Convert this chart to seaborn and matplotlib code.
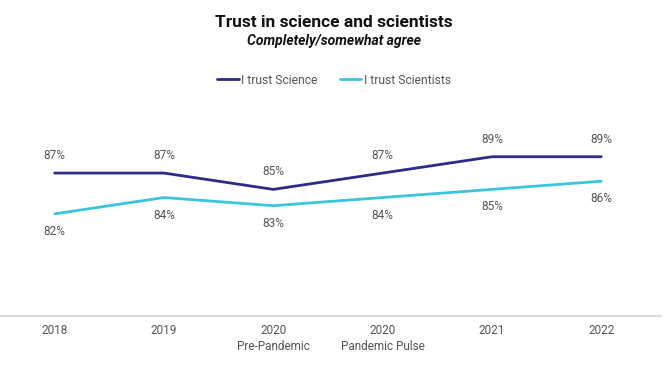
import matplotlib
matplotlib.use("Agg")
import matplotlib.pyplot as plt
import pandas as pd
import seaborn as sns

periods = ["2018", "2019", "2020\nPre-Pandemic", "2020\nPandemic Pulse", "2021", "2022"]
trust_science = [87, 87, 85, 87, 89, 89]
trust_scientists = [82, 84, 83, 84, 85, 86]

SCIENCE_COLOR = "#2E2C86"
SCIENTISTS_COLOR = "#3AC6DA"
TEXT_COLOR = "#555555"

frame = pd.DataFrame({
    "period": list(range(len(periods))) * 2,
    "value": trust_science + trust_scientists,
    "series": ["I trust Science"] * len(periods) + ["I trust Scientists"] * len(periods),
})

sns.set_theme(style="white")
plt.rcParams["font.family"] = ["Roboto", "DejaVu Sans"]

fig = plt.figure(figsize=(6.68, 3.76), dpi=100)
ax = fig.add_axes([0.0, 0.16, 0.99, 0.575])

sns.lineplot(
    data=frame, x="period", y="value", hue="series",
    palette=[SCIENCE_COLOR, SCIENTISTS_COLOR], linewidth=2, ax=ax, legend=False,
)

for i, v in enumerate(trust_science):
    ax.annotate(f"{v}%", (i, v), xytext=(0, 8), textcoords="offset points",
                ha="center", va="bottom", fontsize=8.5, color=TEXT_COLOR)
for i, v in enumerate(trust_scientists):
    ax.annotate(f"{v}%", (i, v), xytext=(0, -8), textcoords="offset points",
                ha="center", va="top", fontsize=8.5, color=TEXT_COLOR)

ax.set_xlim(-0.5, 5.55)
ax.set_ylim(69.5, 96)
ax.set_xticks(range(len(periods)))
ax.set_xticklabels(periods, fontsize=8.5, color=TEXT_COLOR, linespacing=1.3)
ax.set_yticks([])
ax.set_xlabel("")
ax.set_ylabel("")
ax.tick_params(axis="x", length=0, pad=6)
for side in ["top", "left", "right"]:
    ax.spines[side].set_visible(False)
ax.spines["bottom"].set_color("#DDDDDD")
ax.spines["bottom"].set_linewidth(1.5)

fig.text(0.5, 0.94, "Trust in science and scientists", ha="center", va="center",
         fontsize=12.5, fontweight="bold", color="#111111")
fig.text(0.5, 0.89, "Completely/somewhat agree", ha="center", va="center",
         fontsize=10, fontweight="bold", style="italic", color="#111111")

handles = [
    plt.Line2D([], [], color=SCIENCE_COLOR, linewidth=2, label="I trust Science"),
    plt.Line2D([], [], color=SCIENTISTS_COLOR, linewidth=2, label="I trust Scientists"),
]
leg = fig.legend(handles=handles, loc="center", bbox_to_anchor=(0.5, 0.787), ncol=2,
                 frameon=False, fontsize=8.7, handlelength=1.8, handletextpad=0.2,
                 columnspacing=1.8)
for t in leg.get_texts():
    t.set_color(TEXT_COLOR)

fig.savefig("out.png", dpi=100)
